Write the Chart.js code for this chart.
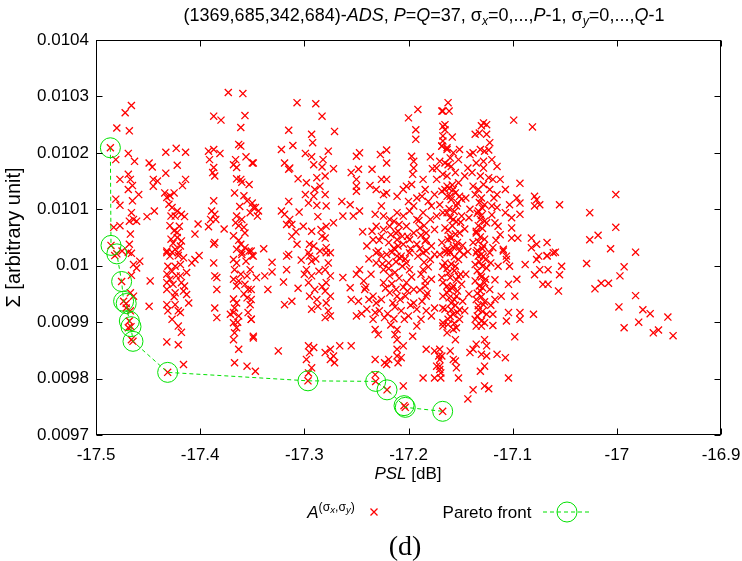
<!DOCTYPE html>
<html><head><meta charset="utf-8">
<script src="https://cdn.jsdelivr.net/npm/chart.js@4/dist/chart.umd.min.js"></script>
<style>
html,body{margin:0;padding:0;background:#fff;}
#wrap{position:relative;width:742px;height:561px;overflow:hidden;font-family:"Liberation Sans",Arial,sans-serif;color:#000;}
#c{position:absolute;left:0;top:0;}
.lbl{position:absolute;white-space:nowrap;transform:translate(-50%,-50%);font-size:17px;line-height:1;}
sub{font-size:0.68em;vertical-align:-0.35em;line-height:0;}
sup{font-size:0.72em;vertical-align:0.6em;line-height:0;}
sup sub{font-size:0.78em;vertical-align:-0.3em;}
</style></head><body>
<div id="wrap">
<canvas id="c" width="742" height="561"></canvas>
<div class="lbl" style="left:424px;top:15px;font-size:18px;">(1369,685,342,684)-<i>ADS</i>, <i>P</i>=<i>Q</i>=37, σ<sub><i>x</i></sub>=0,...,<i>P</i>-1, σ<sub><i>y</i></sub>=0,...,<i>Q</i>-1</div>
<div class="lbl" style="left:408px;top:473px;"><i>PSL</i> [dB]</div>
<div class="lbl" style="left:331px;top:512px;"><i>A</i><sup>(σ<sub><i>x</i></sub>,σ<sub><i>y</i></sub>)</sup></div>
<div class="lbl" style="left:487px;top:512px;">Pareto front</div>
<div class="lbl" style="left:405px;top:546px;font-family:'Liberation Serif','Times New Roman',serif;font-size:28px;">(d)</div>
</div>
<script>
// ---- data (PSL [dB], Sigma [arbitrary unit]) ----
const xTickValues = [-17.5,-17.4,-17.3,-17.2,-17.1,-17.0,-16.9];
const xTickLabels = ['-17.5','-17.4','-17.3','-17.2','-17.1','-17','-16.9'];
const yTickValues = [0.0097,0.0098,0.0099,0.0100,0.0101,0.0102,0.0103,0.0104];
const yTickLabels = ['0.0097','0.0098','0.0099','0.01','0.0101','0.0102','0.0103','0.0104'];

const paretoPSL   = [-17.4862,-17.4856,-17.4800,-17.4754,-17.4735,-17.4710,-17.4680,-17.4664,-17.4645,-17.4312,-17.2965,-17.2315,-17.2206,-17.2043,-17.2031,-17.1672];
const paretoSigma = [0.010209,0.010036,0.010021,0.009972,0.009937,0.009933,0.009902,0.009892,0.009866,0.009811,0.009796,0.009795,0.009780,0.009752,0.009749,0.009742];

const adsPoints = [
[-17.480,0.010244],[-17.472,0.010271],[-17.466,0.010284],[-17.468,0.010239],[-17.481,0.010188],[-17.469,0.010199],[-17.463,0.010185],[-17.477,0.010153],[-17.469,0.010162],[-17.467,0.010153],[-17.465,0.010142],[-17.469,0.010135],[-17.459,0.010126],[-17.465,0.010115],[-17.481,0.010118],[-17.477,0.010107],[-17.466,0.010094],[-17.464,0.010082],[-17.461,0.010079],[-17.468,0.010079],[-17.477,0.010071],[-17.483,0.010068],[-17.467,0.010056],[-17.468,0.010038],[-17.469,0.010024],
[-17.449,0.010182],[-17.446,0.010175],[-17.445,0.010153],[-17.441,0.010150],[-17.445,0.010141],[-17.444,0.010097],[-17.451,0.010087],
[-17.433,0.010201],[-17.423,0.010208],[-17.422,0.010178],[-17.414,0.010201],[-17.433,0.010164],[-17.414,0.010153],[-17.417,0.010142],[-17.434,0.010129],[-17.432,0.010121],[-17.429,0.010124],[-17.425,0.010129],[-17.430,0.010109],[-17.427,0.010103],[-17.422,0.010097],[-17.424,0.010088],[-17.418,0.010091],[-17.415,0.010087],[-17.429,0.010071],[-17.425,0.010062],[-17.422,0.010059],[-17.428,0.010047],[-17.422,0.010050],[-17.418,0.010044],[-17.432,0.010026],[-17.427,0.010024],[-17.424,0.010029],[-17.421,0.010018],
[-17.402,0.010074],[-17.405,0.010056],[-17.401,0.010018],
[-17.392,0.010203],[-17.387,0.010206],[-17.381,0.010199],[-17.391,0.010188],[-17.387,0.010174],[-17.388,0.010165],[-17.386,0.010159],[-17.387,0.010115],[-17.389,0.010097],[-17.386,0.010091],[-17.390,0.010082],[-17.385,0.010082],[-17.377,0.010065],[-17.386,0.010041],[-17.387,0.010038],[-17.392,0.010069],[-17.387,0.010265],[-17.380,0.010258],[-17.373,0.010307],[-17.359,0.010305],
[-17.361,0.010245],[-17.357,0.010266],[-17.363,0.010215],[-17.361,0.010212],[-17.366,0.010188],[-17.368,0.010179],[-17.365,0.010174],[-17.365,0.010154],[-17.361,0.010153],[-17.360,0.010148],[-17.356,0.010193],[-17.349,0.010182],[-17.353,0.010144],[-17.367,0.010129],[-17.358,0.010124],[-17.355,0.010115],[-17.350,0.010111],[-17.349,0.010103],[-17.352,0.010094],[-17.365,0.010088],[-17.360,0.010082],[-17.363,0.010071],[-17.358,0.010068],[-17.366,0.010076],[-17.368,0.010053],[-17.361,0.010038],[-17.365,0.010029],[-17.357,0.010032],[-17.360,0.010024],[-17.353,0.010026],[-17.350,0.010018],[-17.344,0.010097],[-17.345,0.010088],
[-17.307,0.010289],[-17.289,0.010287],[-17.283,0.010265],[-17.315,0.010240],[-17.293,0.010233],[-17.271,0.010238],[-17.292,0.010218],[-17.311,0.010213],[-17.322,0.010206],[-17.299,0.010199],[-17.293,0.010193],[-17.282,0.010188],[-17.277,0.010203],[-17.350,0.010182],[-17.319,0.010182],[-17.314,0.010173],[-17.315,0.010171],[-17.291,0.010179],[-17.283,0.010175],[-17.272,0.010172],[-17.306,0.010154],[-17.288,0.010156],[-17.280,0.010159],[-17.298,0.010147],[-17.290,0.010135],[-17.285,0.010141],[-17.280,0.010126],[-17.299,0.010126],[-17.291,0.010123],[-17.315,0.010114],[-17.264,0.010114],[-17.296,0.010111],[-17.288,0.010107],[-17.279,0.010106],[-17.322,0.010097],[-17.319,0.010091],[-17.314,0.010082],[-17.312,0.010073],[-17.347,0.010103],[-17.263,0.010088],[-17.272,0.010076],[-17.279,0.010070],[-17.293,0.010061],[-17.283,0.010052],[-17.280,0.010049],[-17.291,0.010035],[-17.295,0.010038],[-17.307,0.010038],[-17.312,0.010052],[-17.317,0.010073],[-17.279,0.010032],[-17.339,0.010030],[-17.315,0.010020],[-17.295,0.010017],[-17.275,0.010023],[-17.285,0.010026],
[-17.250,0.010194],[-17.247,0.010200],[-17.255,0.010165],[-17.248,0.010171],[-17.235,0.010171],[-17.227,0.010197],[-17.221,0.010205],[-17.221,0.010182],[-17.250,0.010153],[-17.250,0.010141],[-17.250,0.010132],[-17.237,0.010142],[-17.231,0.010135],[-17.226,0.010153],[-17.221,0.010153],[-17.224,0.010126],[-17.221,0.010129],[-17.256,0.010108],[-17.247,0.010097],[-17.253,0.010088],[-17.232,0.010091],[-17.226,0.010106],[-17.211,0.010123],[-17.205,0.010135],[-17.202,0.010141],[-17.197,0.010144],[-17.200,0.010262],[-17.191,0.010277],[-17.193,0.010241],[-17.193,0.010224],[-17.197,0.010194],[-17.195,0.010185],[-17.195,0.010173],[-17.196,0.010162],[-17.179,0.010193],[-17.177,0.010172],[-17.186,0.010153],[-17.184,0.010135],[-17.192,0.010120],[-17.187,0.010123],[-17.200,0.010114],[-17.195,0.010106],[-17.181,0.010114],[-17.175,0.010126],[-17.178,0.010106],[-17.167,0.010274],[-17.165,0.010250],[-17.167,0.010230],[-17.168,0.010212],[-17.163,0.010206],[-17.170,0.010185],[-17.162,0.010179],[-17.167,0.010162],[-17.173,0.010153],[-17.163,0.010141],[-17.168,0.010132],[-17.163,0.010123],[-17.170,0.010108],
[-17.224,0.010088],[-17.218,0.010082],[-17.211,0.010094],[-17.205,0.010088],[-17.199,0.010097],[-17.192,0.010082],[-17.186,0.010094],[-17.179,0.010082],[-17.173,0.010088],[-17.167,0.010094],[-17.231,0.010070],[-17.224,0.010064],[-17.218,0.010070],[-17.210,0.010061],[-17.202,0.010070],[-17.195,0.010058],[-17.189,0.010067],[-17.183,0.010058],[-17.175,0.010064],[-17.165,0.010067],[-17.234,0.010046],[-17.226,0.010052],[-17.219,0.010041],[-17.211,0.010046],[-17.205,0.010038],[-17.199,0.010046],[-17.192,0.010038],[-17.184,0.010044],[-17.178,0.010035],[-17.168,0.010041],[-17.162,0.010046],[-17.229,0.010026],[-17.221,0.010020],[-17.213,0.010029],[-17.207,0.010017],[-17.199,0.010023],[-17.191,0.010017],[-17.183,0.010026],[-17.175,0.010020],[-17.165,0.010026],[-17.235,0.010061],[-17.173,0.010173],
[-17.162,0.010289],[-17.161,0.010274],[-17.168,0.010274],[-17.167,0.010247],[-17.165,0.010241],[-17.128,0.010253],[-17.125,0.010250],[-17.130,0.010248],[-17.099,0.010258],[-17.081,0.010246],[-17.136,0.010233],[-17.132,0.010235],[-17.125,0.010233],[-17.158,0.010228],[-17.167,0.010221],[-17.168,0.010212],[-17.163,0.010209],[-17.122,0.010218],[-17.131,0.010206],[-17.127,0.010203],[-17.123,0.010205],[-17.151,0.010206],[-17.141,0.010197],[-17.138,0.010200],[-17.157,0.010200],[-17.160,0.010191],[-17.152,0.010188],[-17.165,0.010182],[-17.159,0.010176],[-17.120,0.010188],[-17.128,0.010185],[-17.135,0.010182],[-17.143,0.010173],[-17.146,0.010159],[-17.139,0.010165],[-17.128,0.010173],[-17.115,0.010176],[-17.131,0.010159],[-17.123,0.010156],[-17.119,0.010153],[-17.112,0.010153],[-17.107,0.010135],[-17.093,0.010146],[-17.155,0.010165],[-17.163,0.010159],[-17.152,0.010147],[-17.157,0.010135],[-17.165,0.010135],[-17.151,0.010123],[-17.160,0.010123],[-17.138,0.010141],[-17.133,0.010135],[-17.128,0.010144],[-17.122,0.010135],[-17.115,0.010126],[-17.136,0.010126],[-17.130,0.010120],[-17.096,0.010120],[-17.103,0.010108],[-17.093,0.010111],[-17.079,0.010123],[-17.077,0.010117],[-17.074,0.010108],[-17.079,0.010106],[-17.055,0.010108],[-17.026,0.010094],[-17.001,0.010126],[-17.001,0.010068],[-17.018,0.010054],[-17.026,0.010046],[-17.006,0.010030],[-16.982,0.010024],[-17.107,0.010094],[-17.093,0.010091],[-17.101,0.010085],[-17.120,0.010106],[-17.115,0.010103],[-17.127,0.010108],[-17.141,0.010100],[-17.133,0.010097],[-17.154,0.010106],[-17.163,0.010094],[-17.149,0.010088],[-17.157,0.010082],[-17.131,0.010082],[-17.125,0.010076],[-17.117,0.010076],[-17.114,0.010070],[-17.101,0.010067],[-17.112,0.010055],[-17.101,0.010049],[-17.095,0.010049],[-17.082,0.010049],[-17.077,0.010038],[-17.067,0.010041],[-17.082,0.010032],[-17.109,0.010029],[-17.119,0.010032],[-17.059,0.010024],[-17.067,0.010018],[-17.075,0.010017],[-17.135,0.010058],[-17.138,0.010041],[-17.128,0.010035],[-17.151,0.010058],[-17.160,0.010052],[-17.154,0.010035],[-17.163,0.010029],[-17.147,0.010020],[-17.133,0.010017],[-17.106,0.010017],
[-17.482,0.010018],[-17.475,0.010026],[-17.466,0.010022],[-17.464,0.010002],[-17.461,0.009996],[-17.466,0.009983],[-17.458,0.010008],[-17.467,0.009952],[-17.464,0.009946],[-17.471,0.009925],[-17.467,0.009920],[-17.469,0.009890],[-17.466,0.009869],[-17.448,0.009973],[-17.449,0.009928],[-17.432,0.010023],[-17.429,0.010017],[-17.421,0.010023],[-17.416,0.010014],[-17.408,0.010005],[-17.405,0.010011],[-17.431,0.009999],[-17.424,0.009999],[-17.419,0.010002],[-17.432,0.009985],[-17.423,0.009982],[-17.429,0.009976],[-17.419,0.009982],[-17.413,0.009988],[-17.432,0.009970],[-17.426,0.009967],[-17.418,0.009970],[-17.415,0.009964],[-17.432,0.009958],[-17.424,0.009952],[-17.416,0.009955],[-17.413,0.009949],[-17.432,0.009931],[-17.424,0.009931],[-17.421,0.009920],[-17.419,0.009917],[-17.411,0.009934],[-17.431,0.009920],[-17.421,0.009893],[-17.418,0.009882],[-17.432,0.009865],[-17.421,0.009860],[-17.416,0.009825],[-17.387,0.010005],[-17.384,0.009979],[-17.386,0.009982],[-17.384,0.009958],[-17.386,0.009925],[-17.384,0.009908],[-17.368,0.010011],[-17.365,0.010005],[-17.367,0.009993],[-17.368,0.009976],[-17.363,0.009973],[-17.365,0.009964],[-17.368,0.009941],[-17.365,0.009934],[-17.367,0.009925],[-17.368,0.009917],[-17.363,0.009911],[-17.368,0.009899],[-17.365,0.009890],[-17.367,0.009881],[-17.368,0.009869],[-17.363,0.009852],[-17.367,0.009828],[-17.355,0.009822],[-17.347,0.009813],[-17.371,0.009914],[-17.357,0.009967],[-17.354,0.009958],[-17.355,0.009943],[-17.352,0.009931],[-17.354,0.009917],[-17.351,0.009905],[-17.349,0.009875],[-17.355,0.009982],[-17.352,0.009993],[-17.349,0.010017],[-17.360,0.010020],
[-17.351,0.010026],[-17.351,0.009958],[-17.351,0.009940],[-17.351,0.009905],[-17.349,0.009872],[-17.331,0.010006],[-17.331,0.009989],[-17.338,0.009982],[-17.346,0.009979],[-17.335,0.009958],[-17.320,0.009971],[-17.317,0.010017],[-17.317,0.009993],[-17.312,0.009937],[-17.319,0.009931],[-17.325,0.009849],[-17.296,0.010023],[-17.293,0.010008],[-17.298,0.009993],[-17.293,0.009982],[-17.296,0.009970],[-17.290,0.009958],[-17.295,0.009946],[-17.288,0.009940],[-17.293,0.009923],[-17.296,0.009858],[-17.291,0.009855],[-17.295,0.009846],[-17.298,0.009834],[-17.293,0.009819],[-17.296,0.009810],[-17.279,0.010023],[-17.277,0.010005],[-17.280,0.009993],[-17.275,0.009982],[-17.279,0.009970],[-17.280,0.009955],[-17.275,0.009946],[-17.279,0.009934],[-17.277,0.009920],[-17.280,0.009908],[-17.275,0.009911],[-17.275,0.009852],[-17.280,0.009846],[-17.272,0.009840],[-17.271,0.009828],[-17.275,0.009834],[-17.266,0.009858],[-17.255,0.009858],[-17.263,0.009979],[-17.256,0.009961],[-17.247,0.009993],[-17.250,0.009985],[-17.243,0.009973],[-17.242,0.009958],[-17.255,0.009940],[-17.248,0.009937],[-17.250,0.009911],[-17.240,0.009923],[-17.234,0.009946],[-17.231,0.009934],[-17.232,0.009917],[-17.234,0.009905],[-17.232,0.009887],[-17.229,0.009878],[-17.232,0.009834],[-17.223,0.009828],[-17.219,0.009834],[-17.221,0.009825],[-17.231,0.010023],[-17.231,0.010005],[-17.226,0.010017],[-17.224,0.009993],[-17.219,0.010005],[-17.211,0.010017],[-17.218,0.009982],[-17.224,0.009970],[-17.218,0.009952],[-17.211,0.009946],[-17.226,0.009940],[-17.215,0.009934],[-17.223,0.009908],[-17.211,0.009887],[-17.213,0.009878],[-17.211,0.009869],[-17.205,0.009858],[-17.211,0.009852],[-17.207,0.009837],[-17.211,0.009840],[-17.210,0.009828],[-17.205,0.009787],[-17.232,0.009807],[-17.202,0.010005],[-17.199,0.009993],[-17.202,0.009970],[-17.195,0.009958],[-17.203,0.009946],[-17.195,0.009934],[-17.192,0.009923],[-17.200,0.009911],[-17.192,0.009893],[-17.186,0.010023],[-17.186,0.009993],[-17.179,0.010011],[-17.178,0.009976],[-17.184,0.009964],[-17.183,0.009946],[-17.175,0.009925],[-17.178,0.009911],[-17.183,0.009852],[-17.175,0.009849],[-17.173,0.009822],[-17.171,0.009840],[-17.186,0.009801],[-17.175,0.009801],[-17.170,0.010020],[-17.167,0.009999],[-17.168,0.009979],[-17.163,0.009964],[-17.167,0.009946],[-17.165,0.009923],[-17.167,0.009899],[-17.163,0.010023],
[-17.160,0.010023],[-17.151,0.010026],[-17.165,0.010005],[-17.155,0.009999],[-17.162,0.009987],[-17.152,0.009981],[-17.167,0.009970],[-17.157,0.009964],[-17.149,0.009967],[-17.163,0.009952],[-17.154,0.009946],[-17.159,0.009934],[-17.167,0.009925],[-17.151,0.009922],[-17.157,0.009914],[-17.162,0.009905],[-17.151,0.009905],[-17.167,0.009893],[-17.157,0.009887],[-17.163,0.009881],[-17.155,0.009869],[-17.160,0.009849],[-17.168,0.009840],[-17.155,0.009831],[-17.154,0.009819],[-17.170,0.009816],[-17.152,0.009801],
[-17.135,0.010023],[-17.128,0.010017],[-17.122,0.010023],[-17.136,0.010002],[-17.125,0.009996],[-17.131,0.009984],[-17.136,0.009973],[-17.127,0.009970],[-17.131,0.009955],[-17.122,0.009958],[-17.135,0.009940],[-17.128,0.009931],[-17.133,0.009922],[-17.125,0.009914],[-17.136,0.009905],[-17.130,0.009893],[-17.135,0.009893],[-17.119,0.009914],[-17.119,0.009894],[-17.117,0.009940],[-17.111,0.009946],[-17.104,0.009967],[-17.096,0.009976],[-17.098,0.009946],[-17.104,0.009917],[-17.106,0.009902],[-17.093,0.009917],[-17.093,0.009905],[-17.080,0.009914],[-17.098,0.009874],[-17.106,0.010011],[-17.103,0.009999],[-17.114,0.009999],[-17.109,0.010026],[-17.088,0.010002],[-17.077,0.010011],[-17.079,0.009984],[-17.074,0.009993],[-17.067,0.010017],[-17.066,0.009993],[-17.061,0.010023],[-17.053,0.009999],[-17.055,0.009984],[-17.071,0.009967],[-17.066,0.009967],[-17.056,0.009955],[-17.029,0.010004],[-17.021,0.009959],[-17.015,0.009969],[-17.008,0.009969],[-16.997,0.009982],[-16.993,0.009998],[-16.982,0.009947],[-16.998,0.009927],[-16.975,0.009922],[-16.968,0.009915],[-16.951,0.009909],[-16.993,0.009890],[-16.979,0.009900],[-16.965,0.009881],[-16.960,0.009886],[-16.946,0.009876],
[-17.138,0.009852],[-17.141,0.009846],[-17.135,0.009861],[-17.130,0.009843],[-17.127,0.009869],[-17.125,0.009858],[-17.125,0.009840],[-17.127,0.009822],[-17.131,0.009813],[-17.115,0.009843],[-17.107,0.009837],[-17.104,0.009801],[-17.127,0.009787],[-17.123,0.009782],[-17.138,0.009780],[-17.143,0.009764],[-17.157,0.009834],[-17.170,0.009852],[-17.170,0.009834],[-17.170,0.009822],[-17.169,0.009810],[-17.169,0.009801],
[-17.158,0.010143],[-17.161,0.010137],[-17.155,0.010129],[-17.159,0.010117],[-17.153,0.010111],[-17.161,0.010101],[-17.156,0.010096],[-17.160,0.010085],[-17.154,0.010078],[-17.158,0.010071],[-17.162,0.010063],[-17.155,0.010056],[-17.159,0.010048],[-17.153,0.010041],[-17.157,0.010033],[-17.161,0.010027],[-17.156,0.010016],[-17.152,0.010011],[-17.159,0.010003],[-17.163,0.009995],[-17.156,0.009991],[-17.160,0.009979],[-17.154,0.009975],[-17.158,0.009960],[-17.161,0.009957],[-17.153,0.009955],[-17.156,0.009940],[-17.161,0.009943],[-17.155,0.009930],[-17.159,0.009922],[-17.153,0.009917],[-17.160,0.009910],[-17.156,0.009898],[-17.162,0.009896],[-17.154,0.009890],[-17.149,0.010118],[-17.150,0.010077],[-17.148,0.010036],[-17.150,0.009985],[-17.148,0.009937],
[-17.132,0.010112],[-17.129,0.010102],[-17.134,0.010093],[-17.130,0.010089],[-17.127,0.010079],[-17.133,0.010071],[-17.129,0.010066],[-17.135,0.010061],[-17.131,0.010051],[-17.127,0.010047],[-17.133,0.010043],[-17.129,0.010030],[-17.134,0.010027],[-17.130,0.010020],[-17.126,0.010011],[-17.132,0.010007],[-17.129,0.009999],[-17.134,0.009991],[-17.130,0.009980],[-17.126,0.009976],[-17.132,0.009964],[-17.129,0.009961],[-17.134,0.009951],[-17.130,0.009945],[-17.127,0.009936],[-17.133,0.009929],[-17.129,0.009919],[-17.134,0.009911],[-17.130,0.009902],[-17.127,0.009899],
[-17.214,0.010079],[-17.209,0.010073],[-17.212,0.010058],[-17.206,0.010052],[-17.210,0.010035],[-17.214,0.010031],[-17.208,0.010013],[-17.212,0.010007],[-17.206,0.009999],[-17.213,0.009988],[-17.209,0.009978],[-17.205,0.009962],[-17.212,0.009958],[-17.208,0.009940],[-17.213,0.009927],[-17.207,0.009920],[-17.214,0.009906],
[-17.190,0.010080],[-17.185,0.010071],[-17.188,0.010054],[-17.183,0.010046],[-17.189,0.010030],[-17.185,0.010006],[-17.181,0.009998],[-17.188,0.009985],[-17.184,0.009973],[-17.189,0.009957],[-17.182,0.009951],[-17.187,0.009937],[-17.183,0.009920],[-17.188,0.009905],
[-17.244,0.010060],[-17.240,0.010035],[-17.238,0.010012],[-17.236,0.009985],[-17.241,0.009962],[-17.238,0.009940],[-17.245,0.009915],[-17.228,0.010045],[-17.225,0.010003],[-17.222,0.009960],[-17.228,0.009920],[-17.217,0.010055],[-17.216,0.010024],[-17.219,0.009995],[-17.216,0.009968],[-17.220,0.009915],[-17.217,0.009895],[-17.201,0.010052],[-17.198,0.010030],[-17.203,0.010012],[-17.197,0.009980],[-17.201,0.009955],[-17.198,0.009930],[-17.204,0.009905],[-17.196,0.009875],
[-17.305,0.010095],[-17.301,0.010070],[-17.308,0.010060],[-17.303,0.010010],[-17.300,0.009985],[-17.306,0.009960],[-17.287,0.010087],[-17.284,0.010064],[-17.289,0.010012],[-17.286,0.009990],[-17.283,0.009963],[-17.287,0.009928],
[-17.362,0.010105],[-17.357,0.010058],[-17.363,0.010045],[-17.356,0.010008],[-17.361,0.009985],[-17.358,0.009950],[-17.364,0.009900],[-17.428,0.010088],[-17.420,0.010070],[-17.426,0.010040],[-17.419,0.010035],[-17.427,0.009990],[-17.425,0.009945],[-17.427,0.009905],
[-17.145,0.010120],[-17.142,0.010085],[-17.146,0.010065],[-17.143,0.010025],[-17.145,0.009985],[-17.142,0.009950],[-17.146,0.009920],[-17.118,0.010120],[-17.120,0.010090],[-17.116,0.010045],[-17.121,0.010005],[-17.117,0.009975],[-17.121,0.009930]
];

const RED = '#ff0000';
const GREEN = 'rgb(0,225,0)';

const adsData = adsPoints.map(p => ({x: p[0], y: p[1]}))
  .concat(paretoPSL.map((v, i) => ({x: v, y: paretoSigma[i]})));
const paretoData = paretoPSL.map((v, i) => ({x: v, y: paretoSigma[i]}));

const framePlugin = {
  id: 'frame',
  afterDraw(chart) {
    const {ctx, chartArea: a, scales} = chart;
    const xs = scales.x, ys = scales.y;
    ctx.save();
    ctx.strokeStyle = '#000';
    ctx.lineWidth = 1;
    const L = Math.round(a.left) + 0.5, R = Math.round(a.right) - 0.5;
    const T = Math.round(a.top) + 0.5, B = Math.round(a.bottom) - 0.5;
    ctx.strokeRect(L, T, R - L, B - T);
    const tl = 6;
    ctx.beginPath();
    xs.ticks.forEach(t => {
      const px = Math.round(xs.getPixelForValue(t.value)) + 0.5;
      ctx.moveTo(px, B); ctx.lineTo(px, B - tl);
      ctx.moveTo(px, T); ctx.lineTo(px, T + tl);
    });
    ys.ticks.forEach(t => {
      const py = Math.round(ys.getPixelForValue(t.value)) + 0.5;
      ctx.moveTo(L, py); ctx.lineTo(L + tl, py);
      ctx.moveTo(R, py); ctx.lineTo(R - tl, py);
    });
    ctx.stroke();
    // legend symbols
    const ly = 512;
    ctx.strokeStyle = RED;
    ctx.lineWidth = 1.3;
    ctx.beginPath();
    const o = 3.5, lx = 374;
    ctx.moveTo(lx - o, ly - o); ctx.lineTo(lx + o, ly + o);
    ctx.moveTo(lx - o, ly + o); ctx.lineTo(lx + o, ly - o);
    ctx.stroke();
    ctx.lineWidth = 1;
    ctx.strokeStyle = GREEN;
    ctx.setLineDash([4, 3]);
    ctx.beginPath();
    ctx.moveTo(543, ly); ctx.lineTo(591, ly);
    ctx.stroke();
    ctx.setLineDash([]);
    ctx.beginPath();
    ctx.arc(567, ly, 10, 0, Math.PI * 2);
    ctx.stroke();
    ctx.restore();
  }
};

new Chart(document.getElementById('c'), {
  type: 'scatter',
  data: {
    datasets: [
      {
        label: 'Pareto front',
        data: paretoData,
        showLine: true,
        borderColor: GREEN,
        backgroundColor: 'rgba(0,0,0,0)',
        borderWidth: 1,
        borderDash: [4, 3],
        pointStyle: 'circle',
        pointRadius: 10,
        pointBorderWidth: 1,
        pointBorderColor: GREEN,
        pointBackgroundColor: 'rgba(0,0,0,0)',
        order: 0
      },
      {
        label: 'A(σx,σy)',
        data: adsData,
        showLine: false,
        pointStyle: 'crossRot',
        pointRadius: 5,
        pointBorderWidth: 1.3,
        borderColor: RED,
        pointBorderColor: RED,
        backgroundColor: RED,
        order: 1
      }
    ]
  },
  options: {
    responsive: false,
    devicePixelRatio: 1,
    animation: false,
    events: [],
    layout: {padding: {top: 40, right: 21, left: 0, bottom: 86}},
    plugins: {legend: {display: false}, tooltip: {enabled: false}, title: {display: false}},
    scales: {
      x: {
        type: 'linear', min: -17.5, max: -16.9,
        grid: {display: false, drawTicks: false},
        border: {display: false},
        afterBuildTicks: s => { s.ticks = xTickValues.map(v => ({value: v})); },
        afterFit: s => { s.height = 40; s.paddingLeft = 0; s.paddingRight = 0; },
        ticks: {
          autoSkip: false, maxRotation: 0, padding: 10, color: '#000',
          font: {family: 'Liberation Sans', size: 17},
          callback: (v, i) => xTickLabels[i]
        }
      },
      y: {
        type: 'linear', min: 0.0097, max: 0.0104,
        grid: {display: false, drawTicks: false},
        border: {display: false},
        afterBuildTicks: s => { s.ticks = yTickValues.map(v => ({value: v})); },
        afterFit: s => { s.width = 96; s.paddingTop = 0; s.paddingBottom = 0; },
        ticks: {
          autoSkip: false, padding: 7, color: '#000',
          font: {family: 'Liberation Sans', size: 17},
          callback: (v, i) => yTickLabels[i]
        },
        title: {
          display: true, text: 'Σ [arbitrary unit]', color: '#000',
          font: {family: 'Liberation Sans', size: 20},
          padding: {top: 2, bottom: 0}
        }
      }
    }
  },
  plugins: [framePlugin]
});
</script>
</body></html>
